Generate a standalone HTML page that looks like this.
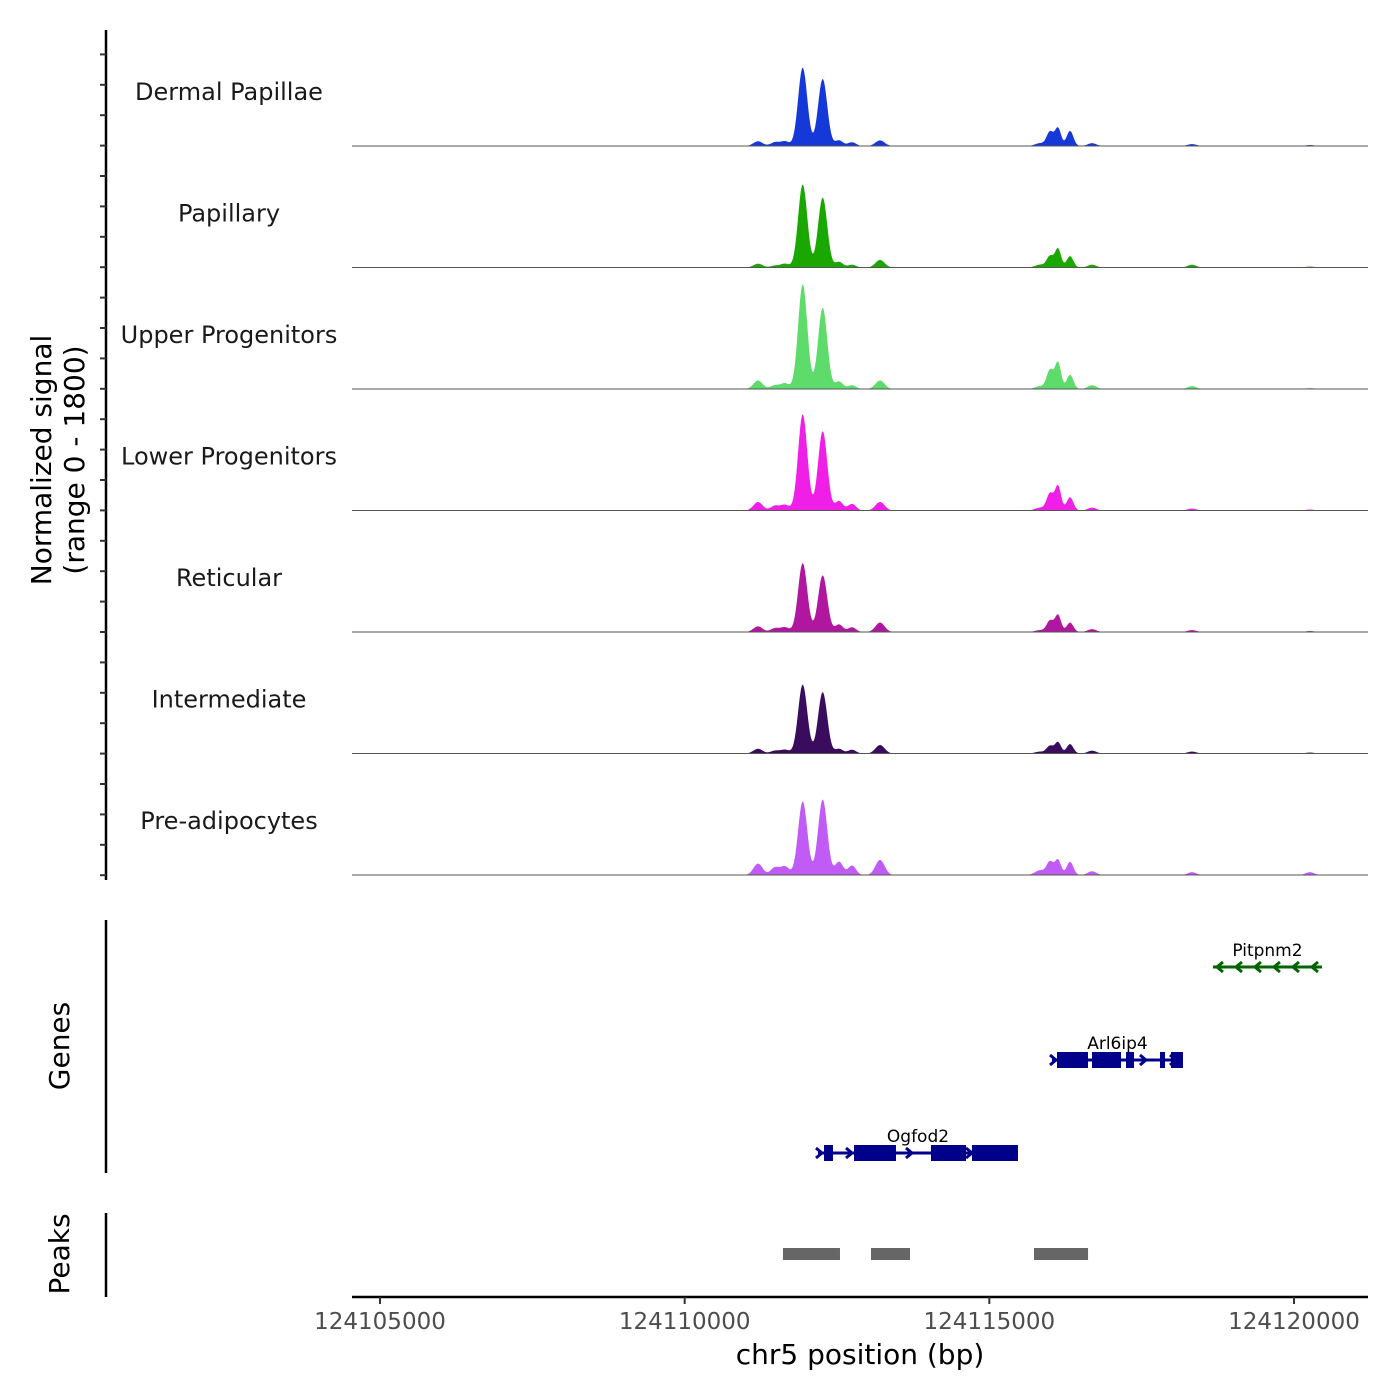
<!DOCTYPE html>
<html><head><meta charset="utf-8"><style>
html,body{margin:0;padding:0;background:#fff;}
svg{display:block;font-family:"DejaVu Sans","Liberation Sans",sans-serif;}
</style></head><body>
<svg id="chart" width="1400" height="1400" viewBox="0 0 1400 1400">
<g id="tracks"></g>
<g id="yaxis">
<line x1="106" y1="30" x2="106" y2="880" stroke="#000" stroke-width="2.5"/>
</g>
<text transform="translate(51,460) rotate(-90)" text-anchor="middle" font-size="28">Normalized signal</text>
<text transform="translate(84,460) rotate(-90)" text-anchor="middle" font-size="28">(range 0 - 1800)</text>
<g id="genes">
<line x1="106" y1="920" x2="106" y2="1173" stroke="#000" stroke-width="2.5"/>
<text transform="translate(69,1046) rotate(-90)" text-anchor="middle" font-size="28">Genes</text>
</g>
<g id="peaks">
<line x1="106" y1="1213" x2="106" y2="1297" stroke="#000" stroke-width="2.5"/>
<text transform="translate(69,1254) rotate(-90)" text-anchor="middle" font-size="28">Peaks</text>
</g>
<g id="xaxis">
<line x1="352" y1="1297" x2="1368" y2="1297" stroke="#000" stroke-width="2.5"/>
</g>
<text x="860" y="1364" text-anchor="middle" font-size="28">chr5 position (bp)</text>
</svg>
<script>
const trackNames = ["Dermal Papillae","Papillary","Upper Progenitors","Lower Progenitors","Reticular","Intermediate","Pre-adipocytes"];
const trackColors = ["#1538d8","#1aa800","#5ddb6b","#ef1fe8","#b0179e","#3a0c5e","#c05cf5"];
const peakCenters = [124111204,124111482,124111646,124111937,124112265,124112533,124112746,124113206,124115832,124115996,124116127,124116324,124116685,124118326,124120262];
const peakSigmas = [75,70,70,75,75,65,65,75,80,55,50,55,70,70,70];
const sigDermal = [75,60,75,1245,1065,90,60,90,45,225,285,240,45,30,15];
const sigPapillary = [60,30,60,1320,1110,90,45,120,45,180,300,180,45,45,15];
const sigUpper = [135,60,90,1665,1290,120,60,135,45,300,420,225,60,45,15];
const sigLower = [135,75,90,1530,1260,150,105,135,45,270,390,210,45,30,15];
const sigReticular = [90,60,75,1095,900,120,75,150,30,180,270,150,45,30,15];
const sigIntermediate = [75,45,60,1095,975,75,60,135,30,120,180,150,45,30,15];
const sigPreadipo = [180,120,135,1170,1200,210,150,240,75,210,240,210,60,45,45];
const trackSignals = [sigDermal,sigPapillary,sigUpper,sigLower,sigReticular,sigIntermediate,sigPreadipo];
const xTicks = [124105000,124110000,124115000,124120000];
const peakStarts = [124111613,124113058,124115733];
const peakEnds = [124112549,124113698,124116620];
const geneNames = ["Pitpnm2","Arl6ip4","Ogfod2"];
const geneStarts = [124118670,124116028,124112188];
const geneEnds = [124120459,124118178,124115470];
const geneStrands = [-1,1,1];
const geneRows = [0,1,2];
const exonGene = [1,1,1,1,1,2,2,2,2];
const exonStarts = [124116110,124116685,124117243,124117801,124117981,124112287,124112779,124114042,124114715];
const exonEnds = [124116619,124117161,124117374,124117883,124118178,124112434,124113468,124114617,124115470];

const NS="http://www.w3.org/2000/svg";
const X0=124105000, XPX=380, SCALE=914/15000;
const xs = bp => XPX + (bp - X0)*SCALE;
const bpAt = x => X0 + (x - XPX)/SCALE;
const TRACK_H=121.5, BASE0=146, MAXV=1800;
const ys = (t,v) => BASE0 + t*TRACK_H - v*(TRACK_H-8)/MAXV;
function mk(tag, attrs, parent){const e=document.createElementNS(NS,tag);for(const k in attrs)e.setAttribute(k,attrs[k]);parent.appendChild(e);return e;}

const tracksG=document.getElementById('tracks');
trackNames.forEach((name,t)=>{
  const g=mk('g',{},tracksG);
  
  
  const vals=trackSignals[t];
  let d='M352,'+ys(t,0);
  for(let x=352;x<=1368;x+=1){
    const bp=bpAt(x);let v=0;
    for(let i=0;i<peakCenters.length;i++){const z=(bp-peakCenters[i])/peakSigmas[i];v+=vals[i]*Math.exp(-0.5*z*z);}
    d+=' L'+x+','+ys(t,v).toFixed(2);
  }
  d+=' L1368,'+ys(t,0)+' Z';
  const p=mk('path',{d:d,fill:trackColors[t]},g);
  
  
  const bl=mk('line',{x1:352,x2:1368,y1:ys(t,0),y2:ys(t,0),stroke:'#555','stroke-width':1},g);
  
  
  const lb=mk('text',{x:229,y:BASE0+t*TRACK_H-46,'text-anchor':'middle','font-size':24,fill:'#1a1a1a'},g);
  lb.textContent=name;
  
  
});
const yaxis=document.getElementById('yaxis');
for(let i=0;i<28;i++){
  const y=54.4+i*30.4;
  const tk=mk('line',{x1:100,x2:106,y1:y,y2:y,stroke:'#333','stroke-width':2},yaxis);
  
  
}
const xaxis=document.getElementById('xaxis');
xTicks.forEach(v=>{
  const tk=mk('line',{x1:xs(v),x2:xs(v),y1:1297,y2:1304,stroke:'#333','stroke-width':2},xaxis);
  
  
  const tl=mk('text',{x:xs(v),y:1329,'text-anchor':'middle','font-size':23,fill:'#4d4d4d'},xaxis);
  tl.textContent=String(v);
  
  
});
const peaksG=document.getElementById('peaks');
peakStarts.forEach((s,i)=>{
  const r=mk('rect',{x:xs(s),y:1248,width:xs(peakEnds[i])-xs(s),height:12,fill:'#666'},peaksG);
  
  
});
const genesG=document.getElementById('genes');
const rowY=[967,1060,1153];
geneNames.forEach((n,i)=>{
  const y=rowY[geneRows[i]];
  const col=geneStrands[i]<0?'#006400':'#00008b';
  const g=mk('g',{},genesG);
  
  
  const x1=xs(geneStarts[i]),x2=xs(geneEnds[i]);
  mk('line',{x1:x1,x2:x2,y1:y,y2:y,stroke:col,'stroke-width':3},g);
  const step=geneStrands[i]<0?19:30;
  for(let x=x1+4;x<x2-4;x+=step){
    const dx=geneStrands[i]<0?-6:6;
    mk('polyline',{points:(x-dx)+','+(y-5)+' '+x+','+y+' '+(x-dx)+','+(y+5),fill:'none',stroke:col,'stroke-width':3},g);
  }
  exonGene.forEach((gi,j)=>{
    if(gi!==i)return;
    const e=mk('rect',{x:xs(exonStarts[j]),y:y-8,width:xs(exonEnds[j])-xs(exonStarts[j]),height:16,fill:col},g);
    
    
  });
  const t=mk('text',{x:(x1+x2)/2,y:y-11,'text-anchor':'middle','font-size':17,fill:'#000'},g);
  t.textContent=n;
  
  
});
</script>
</body></html>
